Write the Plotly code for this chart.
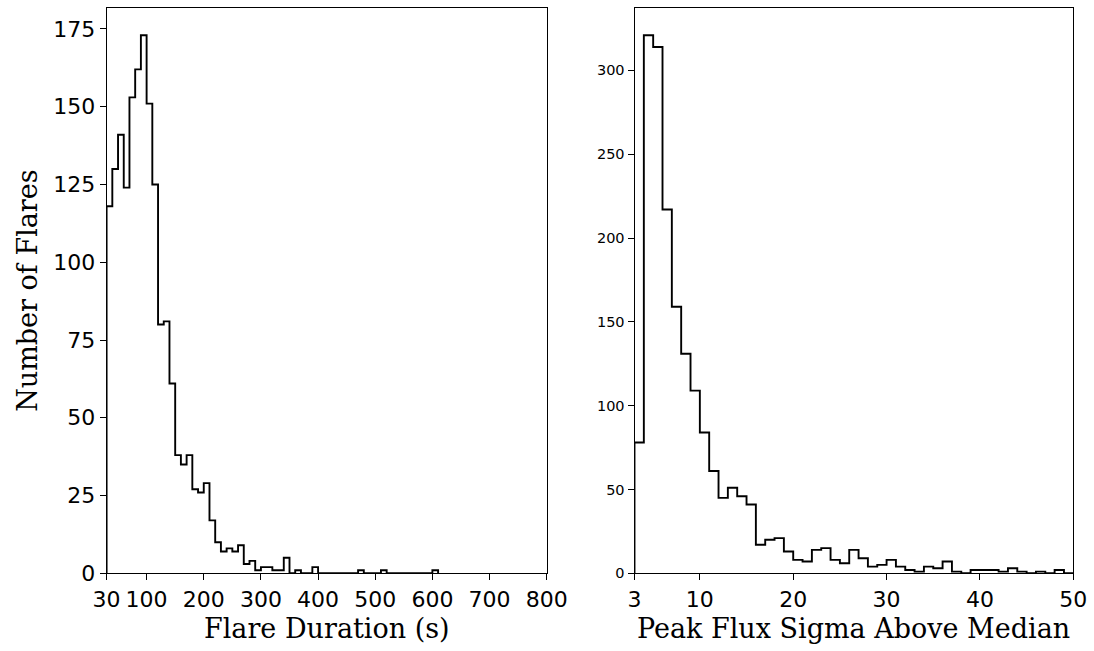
import plotly.graph_objects as go

# ---- data ----
duration_bin_edges = list(range(30, 620, 10))  # 30..610 s, 10 s bins
duration_counts = [118, 130, 141, 124, 153, 162, 173, 151, 125, 80,
                   81, 61, 38, 35, 38, 27, 26, 29, 17, 10,
                   7, 8, 7, 9, 3, 4, 1, 2, 2, 1,
                   1, 5, 0, 1, 0, 0, 2, 0, 0, 0,
                   0, 0, 0, 0, 1, 0, 0, 0, 1, 0,
                   0, 0, 0, 0, 0, 0, 0, 1]

sigma_bin_edges = list(range(3, 51, 1))  # 3..50, unit bins
sigma_counts = [78, 321, 314, 217, 159, 131, 109, 84, 61, 45,
                51, 46, 41, 17, 20, 21, 13, 8, 7, 14,
                15, 8, 6, 14, 9, 4, 5, 8, 4, 2,
                1, 4, 3, 7, 1, 0, 2, 2, 2, 1,
                3, 1, 0, 1, 0, 2, 0]

left_xticks = [30, 100, 200, 300, 400, 500, 600, 700, 800]
left_yticks = [0, 25, 50, 75, 100, 125, 150, 175]
right_xticks = [3, 10, 20, 30, 40, 50]
right_yticks = [0, 50, 100, 150, 200, 250, 300]


def step_outline(edges, counts):
    xs, ys = [edges[0]], [0]
    for i, c in enumerate(counts):
        xs += [edges[i], edges[i + 1]]
        ys += [c, c]
    xs.append(edges[-1])
    ys.append(0)
    return xs, ys


fig = go.Figure()
lx, ly = step_outline(duration_bin_edges, duration_counts)
rx, ry = step_outline(sigma_bin_edges, sigma_counts)
fig.add_trace(go.Scatter(x=lx, y=ly, mode="lines", line=dict(color="black", width=1.9),
                         xaxis="x", yaxis="y", showlegend=False, hoverinfo="skip"))
fig.add_trace(go.Scatter(x=rx, y=ry, mode="lines", line=dict(color="black", width=1.9),
                         xaxis="x2", yaxis="y2", showlegend=False, hoverinfo="skip"))

W, H = 1094, 651
lx0, lx1 = 106.6 / W, 546.7 / W
rx0, rx1 = 634.5 / W, 1073.3 / W
y0, y1 = 1 - 573.3 / H, 1 - 8.3 / H

tickfont_big = dict(family="DejaVu Sans", size=22, color="black")
tickfont_small = dict(family="DejaVu Sans", size=14.5, color="black")
common = dict(showline=True, mirror=True, linecolor="black", linewidth=1,
              ticks="outside", ticklen=6, tickwidth=1, tickcolor="black",
              showgrid=False, zeroline=False)

fig.update_layout(
    width=W, height=H,
    margin=dict(l=0, r=0, t=0, b=0, autoexpand=False),
    paper_bgcolor="white", plot_bgcolor="white",
    xaxis=dict(domain=[lx0, lx1], range=[30, 800], anchor="y",
               tickvals=left_xticks, ticktext=[str(v) for v in left_xticks],
               tickfont=tickfont_big, **common),
    yaxis=dict(domain=[y0, y1], range=[0, max(duration_counts) * 1.05], anchor="x",
               tickvals=left_yticks, tickfont=tickfont_big, **common),
    xaxis2=dict(domain=[rx0, rx1], range=[3, 50], anchor="y2",
                tickvals=right_xticks, tickfont=tickfont_big, **common),
    yaxis2=dict(domain=[y0, y1], range=[0, max(sigma_counts) * 1.05], anchor="x2",
                tickvals=right_yticks, tickfont=tickfont_small, **common),
)

title_font = dict(family="DejaVu Serif", size=27, color="black")
fig.add_annotation(text="Flare Duration (s)", x=(lx0 + lx1) / 2, y=1 - 628 / H,
                   xref="paper", yref="paper", showarrow=False, font=title_font,
                   xanchor="center", yanchor="middle")
fig.add_annotation(text="Peak Flux Sigma Above Median", x=(rx0 + rx1) / 2, y=1 - 628 / H,
                   xref="paper", yref="paper", showarrow=False, font=title_font,
                   xanchor="center", yanchor="middle")
fig.add_annotation(text="Number of Flares", x=28 / W, y=(y0 + y1) / 2,
                   xref="paper", yref="paper", showarrow=False, font=title_font,
                   textangle=-90, xanchor="center", yanchor="middle")

fig.write_html("out.html")
